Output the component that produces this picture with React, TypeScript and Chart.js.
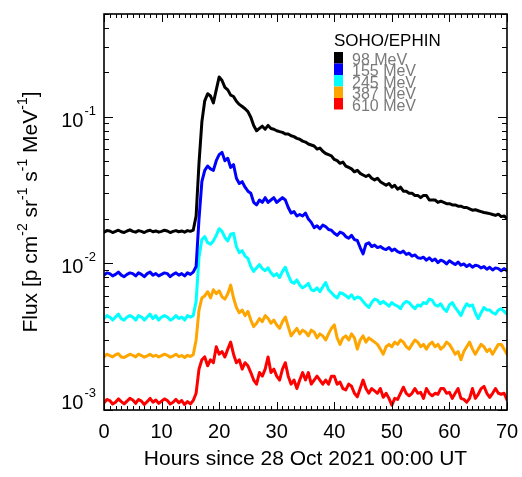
import { useEffect, useRef } from "react";
import { Chart, registerables } from "chart.js";

Chart.register(...registerables);

// Hours since 28 Oct 2021 00:00 UT, half-hour samples 0..70
const hours: number[] = Array.from({ length: 141 }, (_, i) => i * 0.5);

const seriesLabels = ["98 MeV", "155 MeV", "245 MeV", "387 MeV", "610 MeV"];
const seriesColors = ["#000000", "#0000ff", "#00ffff", "#ffa500", "#ff0000"];
const legendTitle = "SOHO/EPHIN";
const xTickValues = [0, 10, 20, 30, 40, 50, 60, 70];
const yDecades = [-3, -2, -1];
const xTitle = "Hours since 28 Oct 2021 00:00 UT";

const flux98 = [
  0.0163, 0.0167, 0.0166, 0.0162, 0.0165, 0.0168, 0.0164, 0.0162, 0.0166, 0.0169,
  0.0165, 0.0163, 0.0167, 0.0165, 0.0162, 0.0166, 0.0168, 0.0164, 0.0166, 0.0163,
  0.0165, 0.0168, 0.0166, 0.0162, 0.0165, 0.0167, 0.0164, 0.0166, 0.0163, 0.0167,
  0.0165, 0.0168,
  0.021, 0.048, 0.092, 0.128, 0.143, 0.138, 0.124, 0.152, 0.186, 0.176,
  0.158, 0.152, 0.14, 0.137, 0.127, 0.121, 0.117, 0.113, 0.108, 0.099,
  0.087, 0.08, 0.083, 0.086, 0.082, 0.087, 0.083, 0.082, 0.08, 0.079,
  0.078, 0.076, 0.076, 0.074, 0.073, 0.071, 0.07, 0.068, 0.067, 0.065,
  0.064, 0.063, 0.06, 0.061, 0.058, 0.056, 0.055, 0.054, 0.051, 0.05,
  0.048, 0.049, 0.046, 0.045, 0.044, 0.042, 0.043, 0.041, 0.04, 0.039,
  0.04, 0.038, 0.037, 0.038, 0.036, 0.035, 0.034, 0.035, 0.033, 0.034,
  0.032, 0.033, 0.031, 0.031, 0.03, 0.03, 0.029, 0.029, 0.028, 0.029,
  0.029, 0.027, 0.027, 0.027, 0.026, 0.0265, 0.026, 0.0255, 0.0255, 0.025,
  0.025, 0.0245, 0.0245, 0.024, 0.024, 0.0235, 0.023, 0.0232, 0.0228, 0.0225,
  0.0222, 0.022, 0.0218, 0.0215, 0.0212, 0.0216, 0.0208, 0.021, 0.0202,
];

const flux155 = [
  0.0083, 0.0086, 0.0085, 0.0082, 0.0084, 0.0087, 0.0083, 0.0081, 0.0084, 0.0086,
  0.0085, 0.0082, 0.0086, 0.0084, 0.0081, 0.0085, 0.0087, 0.0083, 0.0085, 0.0082,
  0.0084, 0.0086, 0.0085, 0.0081, 0.0084, 0.0086, 0.0083, 0.0085, 0.0082, 0.0086,
  0.0084, 0.0087,
  0.0095, 0.02, 0.036, 0.043, 0.046, 0.044, 0.043, 0.05, 0.055, 0.057,
  0.05, 0.052, 0.045, 0.047, 0.038, 0.035, 0.036, 0.033, 0.031, 0.03,
  0.026, 0.025, 0.027, 0.026, 0.028, 0.026, 0.027, 0.028, 0.026, 0.027,
  0.028, 0.027, 0.024, 0.022, 0.0225, 0.021, 0.0215, 0.021, 0.022, 0.02,
  0.019, 0.0175, 0.018, 0.0172, 0.0182, 0.0178, 0.017, 0.0168, 0.016, 0.0155,
  0.0163, 0.016, 0.0152, 0.0148, 0.0155, 0.0145, 0.0143, 0.0128, 0.0116, 0.0135,
  0.0138, 0.013, 0.0133, 0.0128, 0.013, 0.0126, 0.0124, 0.0128, 0.0122, 0.0125,
  0.012, 0.0118, 0.0121, 0.0115, 0.0117, 0.0112, 0.0114, 0.0109, 0.0108, 0.011,
  0.0105, 0.0109, 0.0104, 0.0107, 0.0101, 0.0105, 0.0103, 0.0099, 0.0104, 0.0101,
  0.0098, 0.0102, 0.0097, 0.0099, 0.0095, 0.0098, 0.0094, 0.0097, 0.0096, 0.0093,
  0.0095, 0.0091, 0.0094, 0.009, 0.0093, 0.0092, 0.0089, 0.0092, 0.0089,
];

const flux245 = [
  0.0042, 0.0044, 0.0043, 0.0041, 0.0043, 0.0045, 0.0042, 0.0041, 0.0043, 0.0044,
  0.0043, 0.0041, 0.0044, 0.0043, 0.0041, 0.0043, 0.0045, 0.0042, 0.0044, 0.0041,
  0.0043, 0.0044, 0.0043, 0.0041, 0.0042, 0.0044, 0.0042, 0.0043, 0.0041, 0.0044,
  0.0043, 0.0044,
  0.0055, 0.011, 0.0145, 0.0152, 0.0138, 0.0135, 0.0142, 0.0155, 0.0172, 0.0165,
  0.015, 0.0142, 0.0158, 0.016, 0.013, 0.0118, 0.0122, 0.0112, 0.0108, 0.0095,
  0.0088, 0.0093, 0.0098, 0.0092, 0.0089, 0.0093, 0.0086, 0.0082, 0.0085, 0.008,
  0.0088, 0.0094, 0.0083, 0.0075, 0.0073, 0.0077, 0.0071, 0.0068, 0.007, 0.0073,
  0.0066, 0.0065, 0.0068, 0.0064, 0.0069, 0.0074, 0.0066, 0.0063, 0.006, 0.0058,
  0.0063, 0.0062, 0.006, 0.0058, 0.0061, 0.0057, 0.0059, 0.0058, 0.0055, 0.0052,
  0.005, 0.0054, 0.0057, 0.0056, 0.0053, 0.0055, 0.0053, 0.0051, 0.0054, 0.0052,
  0.0051, 0.0049, 0.0053, 0.0055, 0.0054, 0.0051, 0.0049, 0.0052, 0.0051, 0.0054,
  0.0053, 0.0057, 0.0056, 0.0052, 0.0051, 0.0053, 0.0049, 0.0047, 0.0052, 0.0054,
  0.005, 0.0047, 0.0044, 0.0049, 0.0053, 0.0051, 0.0052, 0.0046, 0.0042, 0.0046,
  0.005, 0.0048, 0.0048, 0.0046, 0.0045, 0.0048, 0.0049, 0.0047, 0.0045,
];

const flux387 = [
  0.0023, 0.0024, 0.00235, 0.0023, 0.00238, 0.00242, 0.0023, 0.00228, 0.00234, 0.0024,
  0.00236, 0.0023, 0.0024, 0.00235, 0.00229, 0.00234, 0.0024, 0.00232, 0.00236, 0.0023,
  0.00235, 0.0024, 0.00236, 0.00229, 0.00233, 0.0024, 0.00231, 0.00235, 0.00228, 0.00236,
  0.00232, 0.00238,
  0.003, 0.0048, 0.0058, 0.006, 0.0064, 0.0058, 0.0066, 0.0062, 0.0065, 0.0059,
  0.0057, 0.0062, 0.0071, 0.0058, 0.005, 0.0046, 0.0048, 0.0044, 0.0047, 0.0041,
  0.0037, 0.0039, 0.0042, 0.004, 0.0044, 0.0042, 0.0039, 0.0041, 0.0038, 0.0036,
  0.004, 0.0043, 0.0037, 0.0032, 0.0034, 0.0036, 0.0033, 0.0035, 0.0034, 0.0032,
  0.0035, 0.0034, 0.0031, 0.0033, 0.0032, 0.003, 0.0033, 0.0036, 0.0038, 0.0031,
  0.0028, 0.0031, 0.0032, 0.003, 0.0033, 0.0031, 0.0026, 0.003, 0.0032, 0.0029,
  0.0031, 0.003, 0.0029, 0.0028, 0.0026, 0.0024, 0.0027, 0.0028, 0.0027, 0.0029,
  0.0028, 0.003, 0.0029, 0.0027, 0.0026, 0.0028, 0.003, 0.0029, 0.0027, 0.0028,
  0.0026, 0.0028, 0.0029, 0.0027, 0.0028, 0.0026, 0.0027, 0.0029, 0.0028, 0.0026,
  0.0024, 0.0025, 0.0022, 0.0025, 0.0027, 0.0029, 0.0026, 0.0024, 0.0026, 0.0028,
  0.0027, 0.0025, 0.0026, 0.0024, 0.0026, 0.0028, 0.0028, 0.0026, 0.0024,
];

const flux610 = [
  0.00112, 0.00118, 0.00116, 0.0011, 0.00113, 0.00119, 0.00114, 0.0011, 0.00115, 0.0012,
  0.00117, 0.00111, 0.00118, 0.00115, 0.00109, 0.00114, 0.0012, 0.00113, 0.00117, 0.00111,
  0.00115, 0.00119, 0.00116, 0.0011, 0.00113, 0.00118, 0.00112, 0.00116, 0.00109, 0.00114,
  0.0011, 0.00116,
  0.0013, 0.0019, 0.0022, 0.0023, 0.002, 0.0022, 0.0021, 0.0027, 0.0024, 0.0025,
  0.0023, 0.0026, 0.0029, 0.0024, 0.0021, 0.0022, 0.0019, 0.0021, 0.002, 0.0018,
  0.0016, 0.0015, 0.0018, 0.0017, 0.0019, 0.0023, 0.0018, 0.0019, 0.0017, 0.0016,
  0.0019, 0.0021, 0.0017, 0.0015, 0.0016, 0.0014, 0.0016, 0.0018, 0.0016, 0.0018,
  0.0015, 0.0016, 0.0017, 0.0016, 0.0015, 0.0016, 0.0015, 0.0017, 0.0017, 0.0015,
  0.00155, 0.0014, 0.00137, 0.0015, 0.00145, 0.0013, 0.00123, 0.0014, 0.0016, 0.0014,
  0.0013, 0.0014, 0.00135, 0.0013, 0.0014, 0.00122, 0.0013, 0.0012, 0.00108, 0.0012,
  0.00118, 0.0013, 0.00143, 0.0013, 0.00125, 0.0013, 0.0014, 0.0013, 0.00132, 0.0012,
  0.0014, 0.0013, 0.00125, 0.0013, 0.00128, 0.0014, 0.0014, 0.0013, 0.00132, 0.0012,
  0.0013, 0.0014, 0.0012, 0.00118, 0.00113, 0.0012, 0.0014, 0.0012, 0.00128, 0.0014,
  0.00145, 0.0013, 0.00122, 0.0013, 0.0014, 0.0013, 0.00128, 0.0013, 0.00117,
];

const allSeries = [flux98, flux155, flux245, flux387, flux610];

const FONT = "'Liberation Sans', Arial, Helvetica, sans-serif";

const framePlugin = {
  id: "idlFrame",
  afterDatasetsDraw(chart: any) {
    const { ctx, chartArea: a, scales } = chart;
    const xs = scales.x;
    const ys = scales.y;
    ctx.save();
    ctx.strokeStyle = "#000";
    ctx.fillStyle = "#000";
    // ticks
    ctx.lineWidth = 1;
    ctx.beginPath();
    for (let h = 0; h <= 70; h++) {
      const px = Math.round(xs.getPixelForValue(h)) + 0.5;
      const len = h % 10 === 0 ? 8 : 4;
      ctx.moveTo(px, a.bottom);
      ctx.lineTo(px, a.bottom - len);
      ctx.moveTo(px, a.top);
      ctx.lineTo(px, a.top + len);
    }
    const decs = [...yDecades, 0];
    for (const d of decs) {
      for (let m = 1; m <= 9; m++) {
        const v = m * Math.pow(10, d);
        if (v < ys.min * 0.999 || v > ys.max * 1.001) continue;
        const py = Math.round(ys.getPixelForValue(v)) + 0.5;
        const len = m === 1 ? 9 : 5;
        ctx.moveTo(a.left, py);
        ctx.lineTo(a.left + len, py);
        ctx.moveTo(a.right, py);
        ctx.lineTo(a.right - len, py);
      }
    }
    ctx.stroke();
    // frame
    ctx.lineWidth = 1.6;
    ctx.strokeRect(a.left, a.top, a.right - a.left, a.bottom - a.top);

    // x tick labels
    ctx.font = `20px ${FONT}`;
    ctx.textAlign = "center";
    ctx.textBaseline = "alphabetic";
    for (const v of xTickValues) {
      ctx.fillText(String(v), xs.getPixelForValue(v), a.bottom + 28);
    }
    // x title
    ctx.font = `21px ${FONT}`;
    ctx.fillText(xTitle, (a.left + a.right) / 2, a.bottom + 55);

    // y tick labels: 10^d
    for (const d of yDecades) {
      const py = ys.getPixelForValue(Math.pow(10, d));
      ctx.font = `20px ${FONT}`;
      const wBase = ctx.measureText("10").width;
      ctx.font = `13px ${FONT}`;
      const expText = String(d);
      const wExp = ctx.measureText(expText).width;
      const right = a.left - 8;
      let base = py + 10;
      if (base > a.bottom - 1) base = a.bottom - 1;
      ctx.textAlign = "left";
      ctx.font = `20px ${FONT}`;
      ctx.fillText("10", right - wExp - wBase - 1, base);
      ctx.font = `13px ${FONT}`;
      ctx.fillText(expText, right - wExp, base - 12);
    }

    // y title with superscripts, rotated
    const parts: [string, boolean][] = [
      ["Flux [p cm", false],
      ["-2", true],
      [" sr", false],
      ["-1", true],
      [" s", false],
      ["-1", true],
      [" MeV", false],
      ["-1", true],
      ["]", false],
    ];
    const mainF = `21px ${FONT}`;
    const supF = `14px ${FONT}`;
    let total = 0;
    for (const [t, sup] of parts) {
      ctx.font = sup ? supF : mainF;
      total += ctx.measureText(t).width;
    }
    ctx.save();
    ctx.translate(37, (a.top + a.bottom) / 2);
    ctx.rotate(-Math.PI / 2);
    let cx = -total / 2;
    ctx.textAlign = "left";
    for (const [t, sup] of parts) {
      ctx.font = sup ? supF : mainF;
      ctx.fillText(t, cx, sup ? -10 : 0);
      cx += ctx.measureText(t).width;
    }
    ctx.restore();

    // legend
    const lx = 334;
    const ly = 32;
    ctx.font = `17px ${FONT}`;
    ctx.fillStyle = "#000";
    ctx.textAlign = "left";
    ctx.fillText(legendTitle, lx, ly + 14);
    const rowH = 11.5;
    const boxTop = 52;
    chart.data.datasets.forEach((ds: any, i: number) => {
      ctx.fillStyle = ds.borderColor;
      ctx.fillRect(lx, boxTop + i * rowH, 9, rowH);
      ctx.fillStyle = "#7a7a7a";
      ctx.font = `16px ${FONT}`;
      ctx.fillText(ds.label, lx + 18, boxTop + (i + 1) * rowH + 1);
    });
    ctx.restore();
  },
};

export default function App() {
  const ref = useRef<HTMLCanvasElement | null>(null);
  useEffect(() => {
    document.body.style.margin = "0";
    const canvas = ref.current;
    if (!canvas) return;
    const datasets = allSeries.map((s, i) => ({
      label: seriesLabels[i],
      data: s.map((v, j) => ({ x: hours[j], y: v })),
      borderColor: seriesColors[i],
      backgroundColor: seriesColors[i],
      borderWidth: 3,
      borderJoinStyle: "round" as const,
      borderCapStyle: "round" as const,
      pointRadius: 0,
      tension: 0,
      fill: false,
    }));
    const chart = new Chart(canvas, {
      type: "line",
      data: { datasets },
      options: {
        animation: false,
        responsive: false,
        maintainAspectRatio: false,
        layout: { padding: { top: 14, right: 15, left: 0, bottom: 0 } },
        plugins: { legend: { display: false }, tooltip: { enabled: false } },
        scales: {
          x: {
            type: "linear",
            min: 0,
            max: 70,
            grid: { display: false },
            border: { display: false },
            ticks: { display: false },
            afterFit: (s: any) => {
              s.height = 67;
            },
          },
          y: {
            type: "logarithmic",
            min: 0.001,
            max: 0.5,
            grid: { display: false },
            border: { display: false },
            ticks: { display: false },
            afterFit: (s: any) => {
              s.width = 104;
            },
          },
        },
      },
      plugins: [framePlugin],
    });
    return () => chart.destroy();
  }, []);
  return <canvas ref={ref} width={522} height={477} style={{ display: "block" }} />;
}
